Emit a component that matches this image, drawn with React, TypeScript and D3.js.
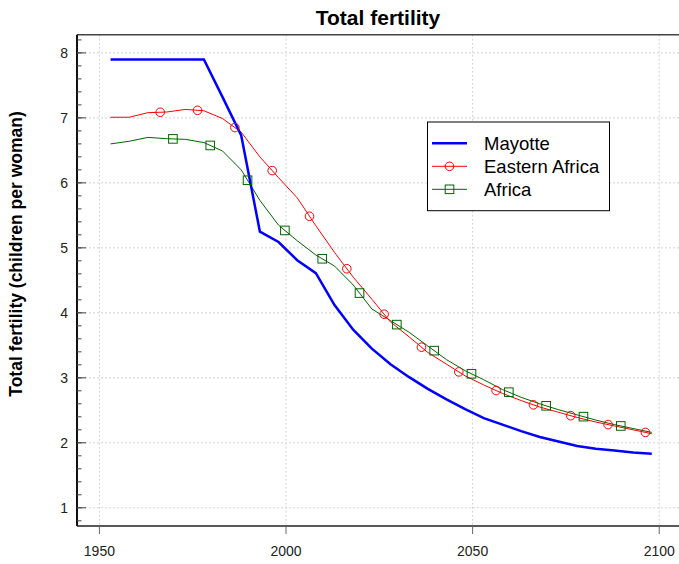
import React from "react";
import * as d3 from "d3";

const years = d3.range(1953, 2099, 5);
const mayotte = [7.9, 7.9, 7.9, 7.9, 7.9, 7.9, 7.32, 6.73, 5.25, 5.09, 4.81, 4.61, 4.12, 3.74, 3.45, 3.21, 3.01, 2.83, 2.67, 2.52, 2.38, 2.28, 2.18, 2.09, 2.02, 1.95, 1.91, 1.88, 1.85, 1.83];
const easternAfrica = [7.01, 7.01, 7.08, 7.09, 7.13, 7.11, 6.99, 6.78, 6.4, 6.08, 5.77, 5.34, 4.93, 4.55, 4.21, 3.86, 3.63, 3.39, 3.21, 3.03, 2.89, 2.76, 2.65, 2.55, 2.47, 2.39, 2.32, 2.26, 2.2, 2.14];
const africa = [6.6, 6.64, 6.7, 6.68, 6.67, 6.62, 6.49, 6.2, 5.73, 5.35, 5.11, 4.89, 4.72, 4.43, 4.06, 3.88, 3.7, 3.49, 3.28, 3.11, 2.97, 2.82, 2.7, 2.6, 2.51, 2.43, 2.35, 2.28, 2.22, 2.16];
const redMarkerYears = d3.range(0, 14).map((k) => 1966.3 + 10 * k);
const greenMarkerYears = d3.range(0, 13).map((k) => 1969.7 + 10 * k);
const xTicks = [1950, 2000, 2050, 2100];
const yTicks = [1, 2, 3, 4, 5, 6, 7, 8];
const yMinor = d3.range(0.8, 8.3, 0.2).map((v) => Math.round(v * 10) / 10);
const legendLabels = ["Mayotte", "Eastern Africa", "Africa"];

const W = 679, H = 564;
const L = 77, R = 679, T = 34.7, B = 526;

export default function App() {
  const x = d3.scaleLinear().domain([1944.0, 2105.3]).range([L, R]);
  const y = d3.scaleLinear().domain([0.72, 8.28]).range([B, T]);
  const line = d3.line<[number, number]>().x((d) => x(d[0])).y((d) => y(d[1]));
  const pts = (vals: number[]) => years.map((yr, i) => [yr, vals[i]] as [number, number]);
  const interp = (vals: number[], yr: number) => d3.scaleLinear().domain(years).range(vals)(yr);

  const font = "'Liberation Sans', Arial, sans-serif";
  return (
    <svg width={W} height={H} style={{ position: "absolute", left: 0, top: 0, fontFamily: font }}>
      <rect x={0} y={0} width={W} height={H} fill="#fff" />
      {/* grid */}
      {xTicks.map((t) => (
        <line key={"gx" + t} x1={x(t)} x2={x(t)} y1={T} y2={B} stroke="#d3d3d3" strokeDasharray="2,2" strokeWidth={1} />
      ))}
      {yTicks.map((t) => (
        <line key={"gy" + t} x1={L} x2={R} y1={y(t)} y2={y(t)} stroke="#d3d3d3" strokeDasharray="2,2" strokeWidth={1} />
      ))}
      {/* frame */}
      <line x1={L} x2={R} y1={T} y2={T} stroke="#444" strokeWidth={1.5} />
      <line x1={L} x2={R} y1={B} y2={B} stroke="#222" strokeWidth={1.5} />
      <line x1={L} x2={L} y1={T} y2={B} stroke="#111" strokeWidth={2} />
      {/* y ticks */}
      {yMinor.map((t) => (
        <line key={"ym" + t} x1={L} x2={L + 4.5} y1={y(t)} y2={y(t)} stroke="#444" strokeWidth={1} />
      ))}
      {yTicks.map((t) => (
        <g key={"yt" + t}>
          <line x1={L} x2={L + 9} y1={y(t)} y2={y(t)} stroke="#444" strokeWidth={1} />
          <text x={68} y={y(t) + 5} textAnchor="end" fontSize={14} fill="#222">{t}</text>
        </g>
      ))}
      {/* x ticks */}
      {xTicks.map((t) => (
        <g key={"xt" + t}>
          <line x1={x(t)} x2={x(t)} y1={B} y2={B + 8} stroke="#666" strokeWidth={1} />
          <text x={x(t)} y={556} textAnchor="middle" fontSize={14} fill="#222">{t}</text>
        </g>
      ))}
      {/* lines */}
      <path d={line(pts(africa)) || ""} fill="none" stroke="#006400" strokeWidth={1} />
      <path d={line(pts(easternAfrica)) || ""} fill="none" stroke="#ff0000" strokeWidth={1} />
      <path d={line(pts(mayotte)) || ""} fill="none" stroke="#0000ff" strokeWidth={2.5} />
      {redMarkerYears.map((yr) => (
        <circle key={"rc" + yr} cx={x(yr)} cy={y(interp(easternAfrica, yr))} r={4.3} fill="none" stroke="#ff0000" strokeWidth={1} />
      ))}
      {greenMarkerYears.map((yr) => (
        <rect key={"gs" + yr} x={x(yr) - 4.3} y={y(interp(africa, yr)) - 4.3} width={8.6} height={8.6} fill="none" stroke="#006400" strokeWidth={1} />
      ))}
      {/* title */}
      <text x={(L + R) / 2} y={25} textAnchor="middle" fontSize={21} fontWeight="bold" fill="#000">Total fertility</text>
      <text transform={`translate(22,254) rotate(-90)`} textAnchor="middle" fontSize={17.5} fontWeight="bold" fill="#000">Total fertility (children per woman)</text>
      {/* legend */}
      <rect x={427.5} y={122} width={182} height={88.7} fill="#fff" stroke="#000" strokeWidth={1} />
      {legendLabels.map((lab, i) => {
        const ly = 143.3 + i * 23;
        const color = ["#0000ff", "#ff0000", "#006400"][i];
        return (
          <g key={lab}>
            <line x1={432} x2={467} y1={ly} y2={ly} stroke={color} strokeWidth={i === 0 ? 2.5 : 1} />
            {i === 1 && <circle cx={449.5} cy={ly} r={4.3} fill="none" stroke={color} strokeWidth={1} />}
            {i === 2 && <rect x={449.5 - 4.3} y={ly - 4.3} width={8.6} height={8.6} fill="none" stroke={color} strokeWidth={1} />}
            <text x={484} y={ly + 6.5} fontSize={18.5} fill="#000">{lab}</text>
          </g>
        );
      })}
    </svg>
  );
}
